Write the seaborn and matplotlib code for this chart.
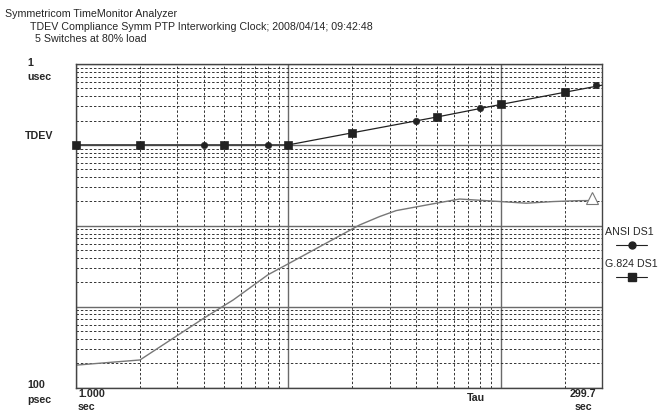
import numpy as np
import pandas as pd
import matplotlib
matplotlib.use("Agg")
import matplotlib.pyplot as plt
from matplotlib.ticker import LogLocator, NullFormatter
from matplotlib.lines import Line2D
import seaborn as sns

# Messkurve (TDEV in Sekunden ueber Tau in Sekunden)
tau_meas = [1.0, 2.0, 4.0, 5.5, 8.0, 10.1, 21.6, 26.9, 32.2, 49.7, 64.0, 88.7, 132.0, 176.0, 227.0, 270.0]
tdev_meas = [1.89e-10, 2.19e-10, 7.2e-10, 1.21e-9, 2.47e-9, 3.44e-9, 1.02e-8, 1.30e-8, 1.54e-8,
             1.90e-8, 2.14e-8, 2.03e-8, 1.90e-8, 1.99e-8, 2.04e-8, 2.05e-8]

# Masken-Linie (ANSI DS1 / G.824 DS1 liegen aufeinander)
mask_tau = [1.0, 10.0, 20.0, 50.0, 100.0, 200.0, 299.7]
mask_val = [1.0e-7, 1.0e-7, 1.41e-7, 2.21e-7, 3.16e-7, 4.47e-7, 5.47e-7]

# Markerpunkte
g824_tau = [1.0, 2.0, 5.0, 10.0, 20.0, 50.0, 100.0, 200.0]
g824_val = [1.0e-7, 1.0e-7, 1.0e-7, 1.0e-7, 1.41e-7, 2.21e-7, 3.16e-7, 4.47e-7]
ansi_tau = [4.0, 8.0, 40.0, 80.0, 280.0]
ansi_val = [1.0e-7, 1.0e-7, 2.0e-7, 2.88e-7, 5.45e-7]

sns.set_style("white")
plt.rcParams['font.family'] = ['Liberation Sans', 'DejaVu Sans']

fig = plt.figure(figsize=(6.61, 4.13), dpi=100)
ax = fig.add_axes([76 / 661, 1 - 387.5 / 413, 526 / 661, 323.5 / 413])

ax.set_xscale('log')
ax.set_yscale('log')
ax.set_xlim(1.0, 299.7)
ax.set_ylim(1e-10, 1e-6)

ax.xaxis.set_major_locator(LogLocator(base=10, numticks=10))
ax.xaxis.set_minor_locator(LogLocator(base=10, subs=np.arange(2, 10), numticks=20))
ax.yaxis.set_major_locator(LogLocator(base=10, numticks=10))
ax.yaxis.set_minor_locator(LogLocator(base=10, subs=np.arange(2, 10), numticks=20))
for axis in (ax.xaxis, ax.yaxis):
    axis.set_major_formatter(NullFormatter())
    axis.set_minor_formatter(NullFormatter())
ax.tick_params(which='both', length=0)

ax.grid(which='major', color='#6a6a6a', linestyle='-', linewidth=1.0)
ax.grid(which='minor', color='#333333', linestyle=(0, (2.5, 2)), linewidth=0.7)
ax.set_axisbelow(True)
for s in ax.spines.values():
    s.set_color('#444444')
    s.set_linewidth(1.0)

# Messkurve
meas = pd.DataFrame({'tau': tau_meas, 'tdev': tdev_meas})
sns.lineplot(data=meas, x='tau', y='tdev', ax=ax, color='#777777', linewidth=1.0, sort=False)
ax.plot(tau_meas[-1], tdev_meas[-1] * 1.08, marker='^', markersize=9, markerfacecolor='white',
        markeredgecolor='#777777', markeredgewidth=0.8, linestyle='none')

# Maske
mask = pd.DataFrame({'tau': mask_tau, 'tdev': mask_val})
sns.lineplot(data=mask, x='tau', y='tdev', ax=ax, color='#222222', linewidth=0.9, sort=False)
sns.scatterplot(x=g824_tau, y=g824_val, ax=ax, marker='s', s=36, color='#222222',
                edgecolor='#222222', clip_on=False, zorder=5)
sns.scatterplot(x=ansi_tau, y=ansi_val, ax=ax, marker='o', s=22, color='#222222',
                edgecolor='#222222', clip_on=False, zorder=5)

ax.set_xlabel('')
ax.set_ylabel('')

# Titel
fs = 7.7
fig.text(5 / 661, 1 - 14 / 413, 'Symmetricom TimeMonitor Analyzer', fontsize=fs, va='center', ha='left')
fig.text(30 / 661, 1 - 27 / 413, 'TDEV Compliance Symm PTP Interworking Clock; 2008/04/14; 09:42:48',
         fontsize=fs, va='center', ha='left')
fig.text(35 / 661, 1 - 39 / 413, '5 Switches at 80% load', fontsize=fs, va='center', ha='left')

# Achsenbeschriftung
lab = dict(fontsize=fs, va='center', ha='left', fontweight='bold')
fig.text(27 / 661, 1 - 63 / 413, '1', **lab)
fig.text(27 / 661, 1 - 77 / 413, 'usec', **lab)
fig.text(25 / 661, 1 - 136 / 413, 'TDEV', **lab)
fig.text(27 / 661, 1 - 385 / 413, '100', **lab)
fig.text(27 / 661, 1 - 400 / 413, 'psec', **lab)
fig.text(78 / 661, 1 - 394 / 413, '1.000', **lab)
fig.text(78 / 661, 1 - 407 / 413, 'sec', **lab)
fig.text(467 / 661, 1 - 398 / 413, 'Tau', **lab)
fig.text(570 / 661, 1 - 394 / 413, '299.7', **lab)
fig.text(575 / 661, 1 - 407 / 413, 'sec', **lab)

# Legende rechts
fig.text(605 / 661, 1 - 232 / 413, 'ANSI DS1', fontsize=fs, va='center', ha='left')
fig.add_artist(Line2D([616 / 661, 647 / 661], [1 - 245 / 413, 1 - 245 / 413], color='#222222',
                      linewidth=0.8, transform=fig.transFigure))
fig.add_artist(Line2D([632 / 661], [1 - 245 / 413], color='#222222', marker='o', markersize=5,
                      linestyle='none', transform=fig.transFigure))
fig.text(605 / 661, 1 - 264 / 413, 'G.824 DS1', fontsize=fs, va='center', ha='left')
fig.add_artist(Line2D([616 / 661, 647 / 661], [1 - 277 / 413, 1 - 277 / 413], color='#222222',
                      linewidth=0.8, transform=fig.transFigure))
fig.add_artist(Line2D([632 / 661], [1 - 277 / 413], color='#222222', marker='s', markersize=6,
                      linestyle='none', transform=fig.transFigure))

fig.savefig('out.png', dpi=100)
